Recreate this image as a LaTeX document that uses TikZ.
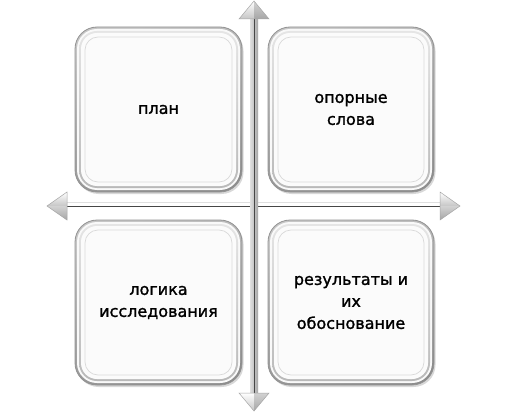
\documentclass[tikz,border=0pt]{standalone}
\usepackage{fontspec}
\setmainfont{DejaVu Sans}[FakeBold=1.2]
\newfontfamily\lblfont{DejaVu Sans}[FakeBold=1.4]
\usetikzlibrary{shadows}
\tikzset{
  rim/.style={rounded corners=22pt, draw=gray!85, line width=0.8pt,
    top color=gray!45, bottom color=gray!90, shading angle=20,
    drop shadow={shadow xshift=1.5pt, shadow yshift=-2pt, opacity=0.3, fill=gray}},
  rimhi/.style={rounded corners=20pt, fill=white!95!gray},
  rimlo/.style={rounded corners=18pt, top color=gray!20, bottom color=gray!55},
  face/.style={rounded corners=16pt, fill=white!97!gray},
  innerline/.style={rounded corners=13pt, draw=gray!30, line width=0.7pt},
  label/.style={align=center, font=\lblfont\fontsize{16}{22}\selectfont, text=black},
  shaftv/.style={left color=gray!25, right color=gray!70},
  shafth/.style={top color=gray!25, bottom color=gray!70},
  headlight/.style={top color=white, bottom color=gray!45},
  headdark/.style={top color=gray!35, bottom color=gray!70},
  headedge/.style={draw=gray!70, line width=0.5pt},
}
\newcommand{\qbox}[5]{%
  \path[rim] (#1,#2) rectangle (#3,#4);
  \path[rimhi] (#1+2,#2+2) rectangle (#3-2,#4-2);
  \path[rimlo] (#1+4,#2+4) rectangle (#3-4,#4-4);
  \path[face] (#1+6,#2+6) rectangle (#3-6,#4-6);
  \path[innerline] (#1+10,#2+10) rectangle (#3-10,#4-10);
  \node[label] (#5) at ({(#1+#3)/2},{(#2+#4)/2}) {};
}
\begin{document}
\begin{tikzpicture}[x=1pt,y=-1pt]
\useasboundingbox (0,0) rectangle (505,414);
\fill[white] (0,0) rectangle (505,414);
% boxes
\qbox{75}{27}{242}{192}{tl}
\qbox{268}{27}{434}{192}{tr}
\qbox{75}{220}{242}{385}{bl}
\qbox{268}{220}{434}{385}{br}
\node[label] at (tl) {план};
\node[label] at (tr) {опорные\\слова};
\node[label] at (bl) {логика\\исследования};
\node[label] at (br) {результаты и\\их\\обоснование};
% arrow end coordinates
\coordinate (vt) at (254,1);
\coordinate (vb) at (254,411);
\coordinate (hl) at (47,206);
\coordinate (hr) at (460,206);
% shafts
\shade[shafth] ([xshift=18pt]hl) ++(0,-4) rectangle ([xshift=-18pt,yshift=4pt]hr);
\draw[gray!55!black, line width=0.9pt] ([xshift=18pt]hl) -- ([xshift=-18pt]hr);
\shade[shaftv] ([yshift=-18pt]vt) ++(-4,0) rectangle ([xshift=4pt,yshift=18pt]vb);
\draw[gray!55!black, line width=0.9pt] ([yshift=-18pt]vt) -- ([yshift=18pt]vb);
% heads: top
\path[headlight] (vt) -- ++(-15,18) -- ++(15,0) -- cycle;
\path[headdark] (vt) -- ++(15,18) -- ++(-15,0) -- cycle;
\path[headedge] (vt) -- ++(-15,18) -- ++(30,0) -- cycle;
% bottom
\path[headlight] (vb) -- ++(-15,-18) -- ++(15,0) -- cycle;
\path[headdark] (vb) -- ++(15,-18) -- ++(-15,0) -- cycle;
\path[headedge] (vb) -- ++(-15,-18) -- ++(30,0) -- cycle;
% left
\path[headlight] (hl) -- ++(20,-14) -- ++(0,14) -- cycle;
\path[headdark] (hl) -- ++(20,14) -- ++(0,-14) -- cycle;
\path[headedge] (hl) -- ++(20,-14) -- ++(0,28) -- cycle;
% right
\path[headlight] (hr) -- ++(-20,-14) -- ++(0,14) -- cycle;
\path[headdark] (hr) -- ++(-20,14) -- ++(0,-14) -- cycle;
\path[headedge] (hr) -- ++(-20,-14) -- ++(0,28) -- cycle;
\end{tikzpicture}
\end{document}
